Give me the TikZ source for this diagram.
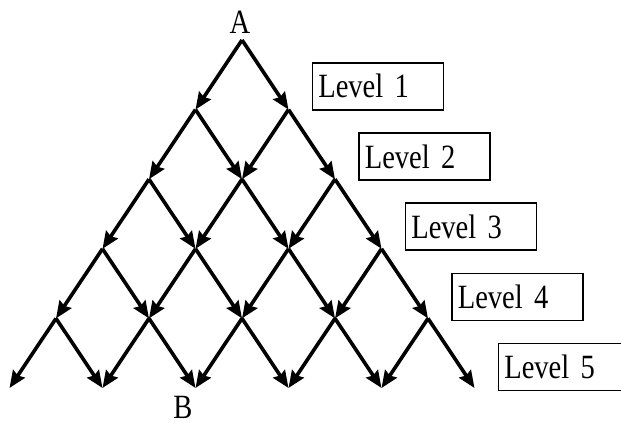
\documentclass[tikz,border=0pt]{standalone}
\usepackage{fontspec}
\setmainfont{Liberation Serif}
\newfontfamily\narrowserif[FakeStretch=0.84]{Liberation Serif}
\DeclareRobustCommand\lvltextfont{\narrowserif\fontsize{34bp}{40bp}\selectfont\spaceskip=3bp\relax}
\usetikzlibrary{arrows.meta}
\begin{document}
\begin{tikzpicture}[x=1bp,y=-1bp,
 edge/.style={line width=3.6bp,-{Stealth[length=17bp,width=14bp,inset=2bp]}},
 lvlbox/.style={draw,line width=1.6bp,anchor=north west,minimum height=47bp,text width=119bp,align=left,inner xsep=6bp,inner ysep=0pt,font=\lvltextfont},
 lbl/.style={font=\narrowserif\fontsize{34bp}{40bp}\selectfont,inner sep=0pt}]
\useasboundingbox (0,0) rectangle (621,422);
\foreach \k in {0,...,5}{
  \foreach \i in {0,...,\k}{
    \coordinate (n-\k-\i) at ({242+(2*\i-\k)*46.5},{40+\k*69.6});
  }
}
\foreach \k [evaluate=\k as \kk using int(\k+1)] in {0,...,4}{
  \foreach \i [evaluate=\i as \ii using int(\i+1)] in {0,...,\k}{
    \draw[edge] (n-\k-\i) -- (n-\kk-\i);
    \draw[edge] (n-\k-\i) -- (n-\kk-\ii);
  }
}
\foreach \k in {1,...,5}{
  \node[lvlbox] (L\k) at ({311.5+46.5*(\k-1)},{62+70.2*(\k-1)}) {Level \k};
}
\node[lbl] (A) at (240,22) {A};
\node[lbl] (B) at (183,407) {B};
\end{tikzpicture}
\end{document}
